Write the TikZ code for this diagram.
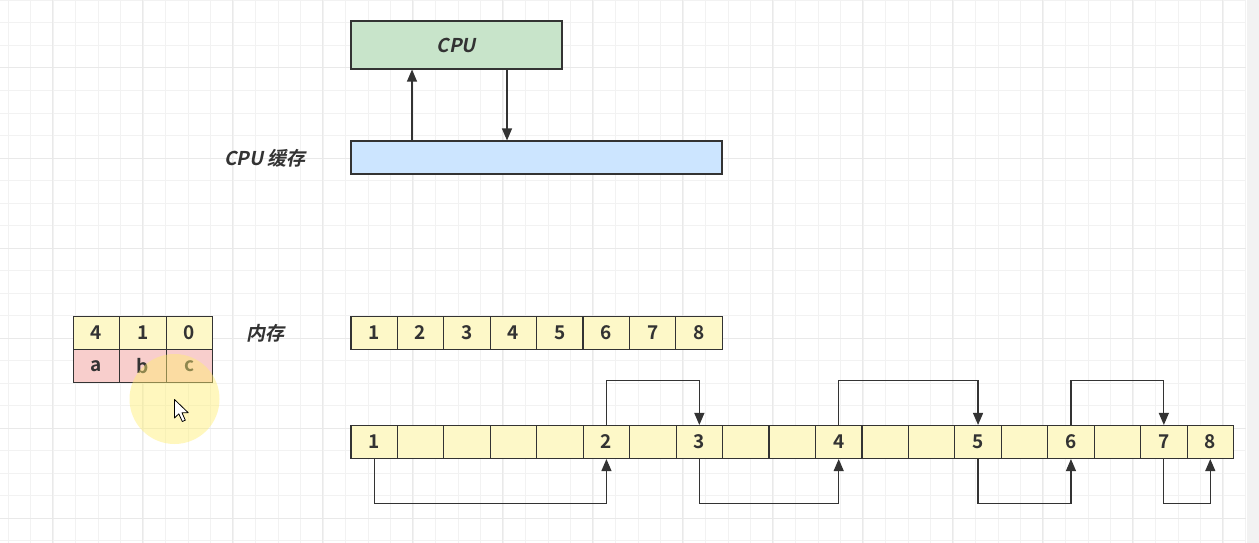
\documentclass[tikz,border=0pt]{standalone}
\usepackage{fontspec}
\setmainfont{Noto Sans CJK SC}
\newfontfamily\slfont{Noto Sans CJK SC}[UprightFont={* Bold},FakeSlant=0.2]
\newfontfamily\bdfont{Noto Sans CJK SC}[UprightFont={* Bold}]
\usetikzlibrary{arrows.meta,calc}
\definecolor{txt}{HTML}{333333}
\definecolor{gridminor}{HTML}{F2F2F2}
\definecolor{gridmajor}{HTML}{E9E9E9}
\definecolor{cpugreen}{HTML}{C8E4CA}
\definecolor{cacheblue}{HTML}{CCE5FF}
\definecolor{cellyellow}{HTML}{FDF8C8}
\definecolor{cellpink}{HTML}{F8CECC}
\definecolor{edge}{HTML}{333333}
\definecolor{hilite}{HTML}{FFEE70}
\tikzset{
  cell/.style={draw=edge, line width=1.1pt, fill=cellyellow, minimum width=46.4pt, minimum height=33pt, inner sep=0pt, text=txt, font=\fontsize{19}{21}\bdfont},
  pinkcell/.style={cell, fill=cellpink},
  lbl/.style={text=txt, font=\fontsize{19}{21}\slfont, inner sep=0pt},
  num/.style={text=txt, font=\fontsize{19}{21}\bdfont, inner sep=0pt},
  arr/.style={draw=edge, line width=1.2pt, -{Triangle[length=12pt,width=10pt]}},
}
\begin{document}
\begin{tikzpicture}[x=1pt,y=-1pt]
\useasboundingbox (0,0) rectangle (1259,543);
\fill[white] (0,0) rectangle (1259,543);
% grid
\foreach \k in {0,...,55} \draw[gridminor, line width=1pt] (8+22.5*\k,0) -- (8+22.5*\k,543);
\foreach \k in {0,...,24} \draw[gridminor, line width=1pt] (0,0.5+22.5*\k) -- (1246,0.5+22.5*\k);
\foreach \k in {0,...,13} \draw[gridmajor, line width=1pt] (52.5+90*\k,0) -- (52.5+90*\k,543);
\foreach \k in {0,...,5} \draw[gridmajor, line width=1pt] (0,68+90*\k) -- (1246,68+90*\k);
\fill[gray!10] (1247,0) rectangle (1259,543);

% CPU and cache
\node[draw=edge, line width=1.1pt, fill=cpugreen, minimum width=211pt, minimum height=48pt, inner sep=0pt, lbl] (cpu) at (456.5,45) {CPU};
\node[draw=edge, line width=1.1pt, fill=cacheblue, minimum width=371pt, minimum height=33pt, inner sep=0pt] (cache) at (536.5,157.5) {};
\node[lbl] (cachelbl) at (265,158) {CPU 缓存};
\draw[arr] (cache.north -| 412,0) -- (cpu.south -| 412,0);
\draw[arr] (cpu.south -| 507,0) -- (cache.north -| 507,0);

% memory top row
\node[lbl] (memlbl) at (265,333) {内存};
\foreach \i in {1,...,8} \node[cell] (m\i) at (351+46.4*\i-23.2,333) {\i};

% left table
\foreach \t [count=\j from 0] in {4,1,0} \node[cell] (t\j) at (96.5+46.4*\j,333) {\t};
\foreach \t [count=\j from 0] in {a,b,c} \node[pinkcell] (p\j) at (96.5+46.4*\j,366) {\t};

% bottom row
\foreach \i in {0,...,18} \node[cell] (b\i) at (351+46.45*\i+23.2,442) {};
\foreach \i/\n in {0/1,5/2,7/3,10/4,13/5,15/6,17/7,18/8} \node[num] (n\n) at (b\i) {\n};

\coordinate (hi) at (0,380.7);
\coordinate (lo) at (0,503.3);
\draw[arr] (b5.north) -- (b5.north |- hi) -| (b7.north);
\draw[arr] (b10.north) -- (b10.north |- hi) -| (b13.north);
\draw[arr] (b15.north) -- (b15.north |- hi) -| (b17.north);
\draw[arr] (b0.south) -- (b0.south |- lo) -| (b5.south);
\draw[arr] (b7.south) -- (b7.south |- lo) -| (b10.south);
\draw[arr] (b13.south) -- (b13.south |- lo) -| (b15.south);
\draw[arr] (b17.south) -- (b17.south |- lo) -| (b18.south);

% cursor highlight
\fill[hilite, opacity=0.45] (174.5,399) circle (45);
\draw[black, line width=0.8pt, fill=white, line join=round]
  (174.5,399.5) -- (174.5,418) -- (178.8,413.8) -- (182.3,421.5) -- (185.3,420.2) -- (182,412.7) -- (188.2,412.7) -- cycle;
\end{tikzpicture}
\end{document}
